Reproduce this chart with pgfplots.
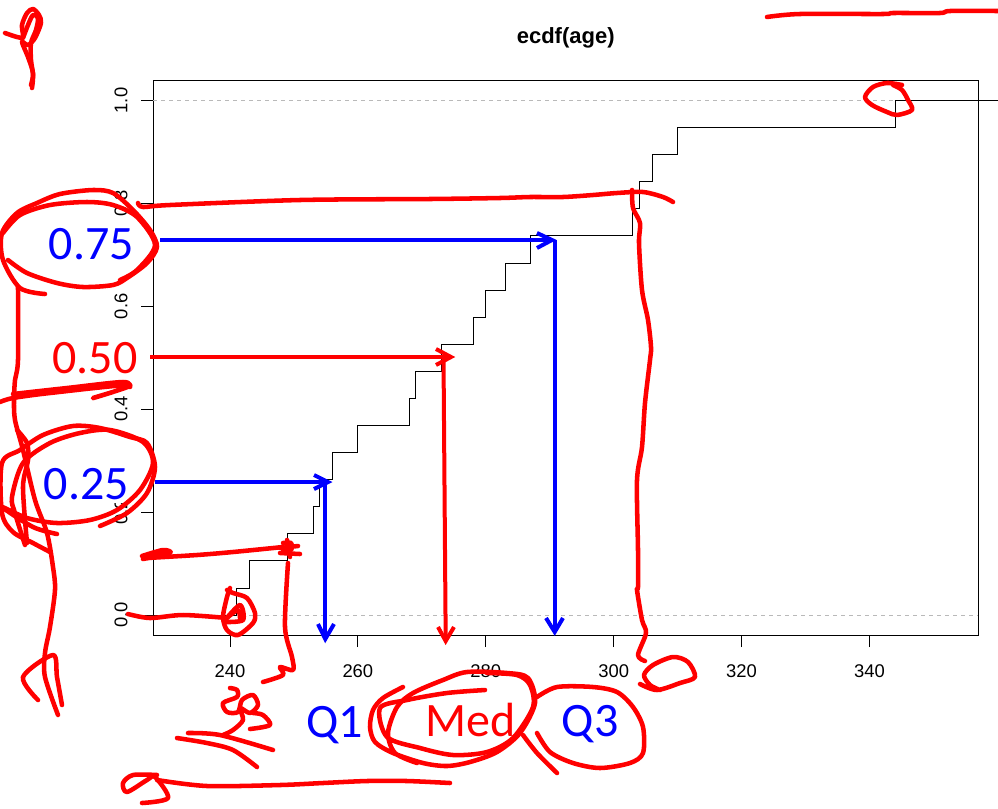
\documentclass[border=0pt]{standalone}
\usepackage{fontspec}
\usepackage{pgfplots}
\pgfplotsset{compat=1.18}
\setmainfont{Liberation Sans}
\newfontfamily\carlito{Carlito}

% overlay axes use picture pixels as coordinates (1px = 0.75pt)
\pgfplotsset{
  overlay/.style={
    at={(0pt,0pt)}, anchor=south west, scale only axis,
    width=748.5pt, height=606pt,
    xmin=0, xmax=998, ymin=0, ymax=808, y dir=reverse,
    hide axis, clip=false,
  },
  ink/.style={no marks, line width=3.4pt, line cap=round, line join=round, smooth, tension=0.5},
  shaft/.style={no marks, line width=3pt, line cap=butt, line join=miter, sharp plot},
}
\tikzset{lab/.style={anchor=base, font=\carlito\fontsize{36pt}{37pt}\selectfont}}
\newcommand{\rd}[1]{\addplot[ink, red] coordinates {#1};}
\newcommand{\rs}[1]{\addplot[shaft, red] coordinates {#1};}
\newcommand{\bs}[1]{\addplot[shaft, blue] coordinates {#1};}

\begin{document}
\begin{tikzpicture}
\useasboundingbox (0pt,0pt) rectangle (748.5pt,606pt);

\begin{axis}[
    at={(115.1pt,129.75pt)}, anchor=south west, scale only axis,
    width=618.4pt, height=415.9pt,
    xmin=228.04, xmax=356.97,
    ymin=-0.0389, ymax=1.0389,
    clip=false,
    tick align=outside, major tick length=9pt,
    axis line style={line width=0.6pt},
    tick style={line width=0.6pt, black},
    xtick={240,260,280,300,320,340},
    xticklabels={240,260,280,300,320,340},
    ytick={0,0.2,0.4,0.6,0.8,1},
    yticklabels={0.0,0.2,0.4,0.6,0.8,1.0},
    xtick pos=bottom, ytick pos=left,
    ticklabel style={font=\fontsize{13.8pt}{14pt}\selectfont},
    xticklabel style={anchor=base, yshift=-22.5pt},
    yticklabel style={rotate=90, anchor=base, yshift=10.5pt},
    title={ecdf(age)},
    title style={at={(0.5,1)}, anchor=base, yshift=21.6pt, font=\bfseries\fontsize{16.5pt}{17pt}\selectfont},
]
\addplot[no marks, gray!55, line width=0.6pt, dash pattern=on 3pt off 3pt] coordinates {(228.04,0) (356.97,0)};
\addplot[no marks, gray!55, line width=0.6pt, dash pattern=on 3pt off 3pt] coordinates {(228.04,1) (356.97,1)};
\addplot[no marks, black, line width=0.6pt, const plot] coordinates {
 (228.04,0) (241,0.0526) (243,0.1053) (249,0.1579) (253,0.2105) (254,0.2632)
 (256,0.3158) (260,0.3684) (268,0.4211) (269,0.4737) (273,0.5263) (278,0.5789)
 (280,0.6316) (283,0.6842) (287,0.7368) (303,0.7895) (304,0.8421) (306,0.8947)
 (310,0.9474) (344,1) (360.2,1)
};
\end{axis}

\begin{axis}[overlay]
\node[lab, text=blue] at (axis cs:91.5,259) {0.75};
\node[lab, text=red] at (axis cs:95,373) {0.50};
\node[lab, text=blue, fill=white, inner sep=2.5pt] at (axis cs:86.5,499) {0.25};
\node[lab, text=blue] at (axis cs:334.5,737) {Q1};
\node[lab, text=red] at (axis cs:471,736) {Med};
\node[lab, text=blue] at (axis cs:590,736) {Q3};
\end{axis}

\begin{axis}[overlay]
% arrows
\bs{(160,240) (552,240)}
\bs{(537,233) (552,240) (537,248)}
\bs{(554.7,240) (554.7,632)}
\bs{(546,618) (554.7,632) (563,618)}
\bs{(155,482) (328,482)}
\bs{(314,475) (328,482) (314,489)}
\bs{(325.3,482) (325.3,639)}
\bs{(318,624) (325.3,639) (334,624)}
\rs{(150,357) (451,357)}
\rs{(436,349) (451,357) (436,365)}
\rs{(443.5,357) (445.7,641)}
\rs{(438,627) (445.7,641) (454,627)}

% top left scrawl
\rd{(5,33) (17,37) (23,37) (22,25) (27,13) (33,9) (39,15) (41,23) (35,38) (28,45) (22,42) (28,57) (33,73) (32,88)}
\rd{(23,38) (28,25) (33,15) (38,18) (36,30) (31,43) (31,60) (33,75) (31,85)}
% top right
\rd{(767,17) (800,14) (883,14) (893,13) (940,13) (950,11) (998,11)}
\rd{(902,85) (887,83) (873,87) (865,97) (872,105) (887,112) (897,115) (912,110) (908,100) (902,90) (893,85)}
% line at 0.8 and the drop from it
\rd{(138,203) (143,207) (170,205) (300,200) (430,199) (500,198) (530,197) (563,197) (593,195) (617,193) (643,192) (663,197) (673,202)}
\rd{(632,190) (633,208) (640,223) (639,243) (642,290) (648,320) (651,347) (650,360) (645,403) (642,447) (637,480) (638,550) (638,587) (637,590) (642,620) (646,633) (638,655) (645,661)}
\rd{(640,684) (657,690) (680,683) (695,677) (688,662) (673,657) (653,665) (644,675) (650,685) (660,690)}
% oval round 0.75
\rd{(45,294) (20,288) (3,260) (2,233) (17,213) (37,203) (60,194) (93,190) (113,193) (133,210) (150,230) (157,247) (147,263) (127,278) (113,285) (83,287) (57,283) (27,273) (8,260)}
\rd{(3,233) (20,215) (50,205) (87,202) (113,205) (137,217) (155,245) (137,270) (120,280)}
% long stroke down the left
\rd{(18,287) (18,360) (15,380) (14,400) (15,420) (23,450) (35,500) (47,533) (53,567) (55,590) (50,627) (45,653) (45,677) (58,715)}
\rd{(38,700) (23,677) (53,655) (57,677) (62,705)}
% under 0.50
\rd{(0,402) (13,398) (50,393) (130,385) (93,398) (113,392)}
\rd{(13,394) (67,388) (123,382) (130,387)}
% oval round 0.25
\rd{(100,526) (127,513) (147,493) (155,467) (147,443) (130,437) (100,428) (73,426) (43,435) (20,450) (2,463) (2,513) (13,532) (33,543) (50,552)}
\rd{(57,534) (33,527) (2,507) (27,518) (57,523) (90,520) (117,510) (140,490) (153,463) (143,442) (110,430) (80,433) (50,443) (23,463) (12,497) (15,513) (25,545)}
\rd{(17,430) (27,443) (28,460) (23,487) (27,543)}
% line at 0.15
\rd{(142,556) (163,550) (170,553) (143,559)}
\rd{(145,556) (160,553) (168,552)}
\rd{(147,558) (197,555) (233,552) (283,547)}
\rd{(280,553) (300,554)}
\rd{(280,548) (298,546)}
\rd{(287,540) (290,557)}
\rd{(283,543) (291,543) (291,550) (283,550)}
\rd{(288,563) (285,627) (292,657) (293,670) (280,667) (283,675) (263,682)}
% line at 0.0 and circle
\rd{(128,614) (150,618) (183,615) (227,618)}
\rd{(230,588) (227,597) (223,617) (227,630) (238,635) (253,623) (255,613) (247,598) (233,593) (227,590)}
\rd{(225,620) (240,605) (243,620) (225,622)}
\rd{(228,617) (238,610) (240,618)}
% scrawl under 240
\rd{(230,688) (237,690) (237,697) (223,703) (227,712) (238,712) (242,700) (253,695) (258,705) (250,713) (240,708) (243,720) (233,730) (223,735)}
\rd{(253,713) (263,715) (270,725) (250,729)}
\rd{(188,733) (220,735) (273,750)}
\rd{(177,738) (207,743) (233,750) (257,767)}
% bottom stroke
\rd{(157,775) (133,775) (123,783) (127,792) (147,780) (155,777) (168,798) (142,803)}
\rd{(157,780) (207,786) (280,785) (323,783) (367,781) (407,781) (450,783)}
% oval round Med
\rd{(403,687) (383,698) (373,710) (370,727) (375,742) (393,753) (423,763) (447,766) (470,762) (497,752) (520,733) (535,703) (528,678) (507,673) (467,672) (443,680) (413,693) (397,707) (388,733) (395,753) (417,763)}
\rd{(485,690) (447,693) (407,700) (380,708) (387,737) (420,748) (453,755) (487,752) (513,738) (533,707) (530,685) (517,675) (487,673)}
% oval round Q3
\rd{(537,697) (557,687) (593,687) (617,692) (633,707) (643,727) (643,753) (630,763) (600,768) (573,763) (550,752) (537,733)}
\rd{(523,735) (537,753) (557,773)}
\end{axis}
\end{tikzpicture}
\end{document}
